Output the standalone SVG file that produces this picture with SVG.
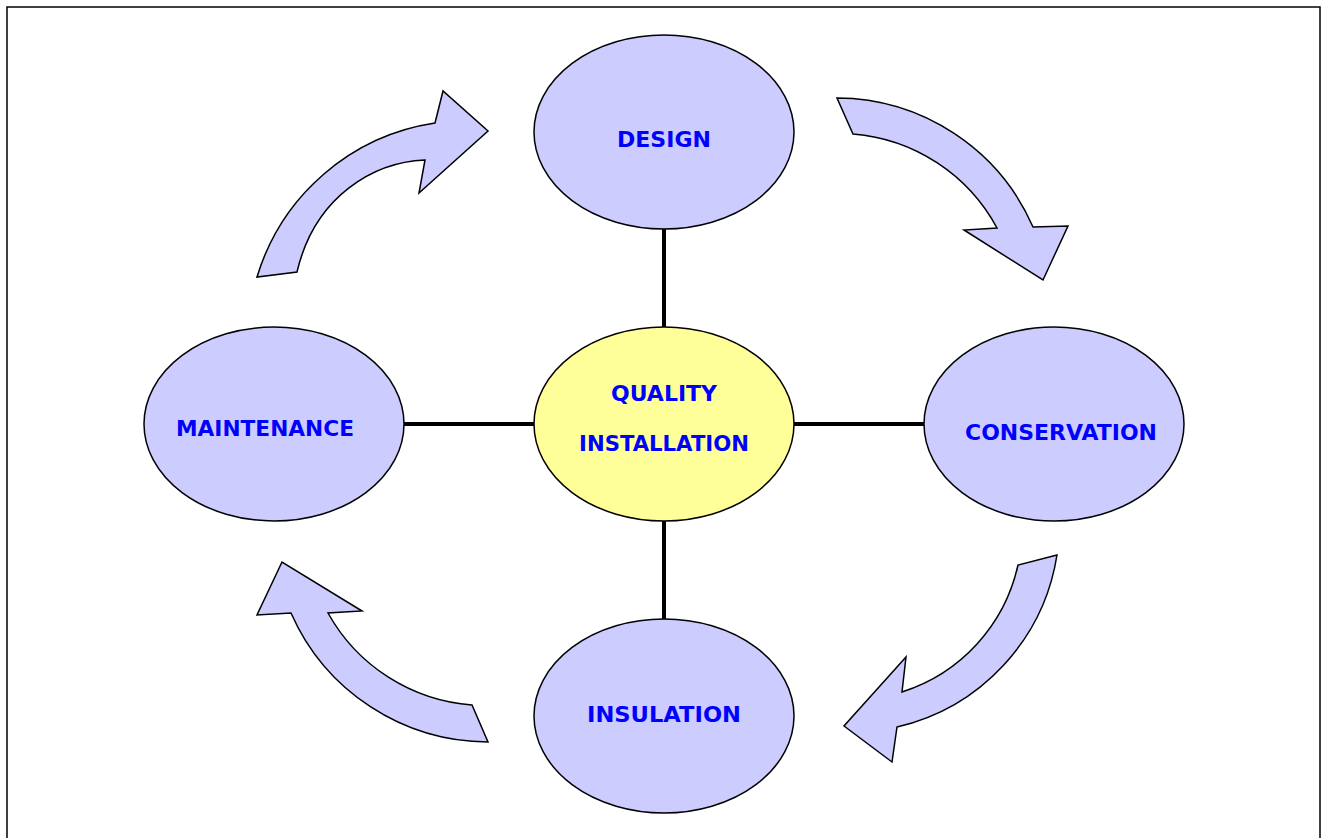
<svg xmlns="http://www.w3.org/2000/svg" width="1328" height="838" viewBox="0 0 1328 838">
<style>
.node{fill:#CCCCFF;stroke:#000;stroke-width:1.5}
.core{fill:#FFFF99;stroke:#000;stroke-width:1.5}
.arrow{fill:#CCCCFF;stroke:#000;stroke-width:1.5;stroke-linejoin:miter}
.lbl{font-family:"DejaVu Sans","Liberation Sans",sans-serif;font-weight:bold;font-size:21px;fill:#0000FF;text-anchor:middle}
.link{stroke:#000;stroke-width:4;fill:none}
</style>
<rect x="0" y="0" width="1328" height="838" fill="#fff"/>
<rect x="7" y="7" width="1313" height="840" fill="none" stroke="#000" stroke-width="1.5"/>
<g id="connectors">
<line class="link" x1="664" y1="229" x2="664" y2="327"/>
<line class="link" x1="664" y1="521" x2="664" y2="619"/>
<line class="link" x1="404" y1="424" x2="534" y2="424"/>
<line class="link" x1="794" y1="424" x2="924" y2="424"/>
<path id="arrow-top-left" class="arrow" d="M257,277 A220,220 0 0 1 435,123 L443,91 L488,131 L419,193 L425,160 C375,162 315,195 297,272 Z"/>
<path id="arrow-top-right" class="arrow" d="M837,98 A215,215 0 0 1 1033,227 L1068,226 L1043,280 L964,230 L997,228 A180,180 0 0 0 853,134 Z"/>
<path id="arrow-bottom-right" class="arrow" d="M1057,555 L1018,565 A172,172 0 0 1 902,692 L906,657 L844,726 L892,762 L897,727 A210,210 0 0 0 1057,555 Z"/>
<path id="arrow-bottom-left" class="arrow" d="M488,742 A216,216 0 0 1 291,613 L257,615 L282,562 L362,611 L328,613 A180,180 0 0 0 472,705 Z"/>
</g>
<g id="design">
<ellipse class="node" cx="664" cy="132" rx="130" ry="97"/>
<text class="lbl" x="664" y="147" textLength="94" lengthAdjust="spacingAndGlyphs">DESIGN</text>
</g>
<g id="quality-installation">
<ellipse class="core" cx="664" cy="424" rx="130" ry="97"/>
<text class="lbl" x="664" y="401" textLength="106" lengthAdjust="spacingAndGlyphs">QUALITY</text>
<text class="lbl" x="664" y="451" textLength="170" lengthAdjust="spacingAndGlyphs">INSTALLATION</text>
</g>
<g id="maintenance">
<ellipse class="node" cx="274" cy="424" rx="130" ry="97"/>
<text class="lbl" x="265" y="436" textLength="178" lengthAdjust="spacingAndGlyphs">MAINTENANCE</text>
</g>
<g id="conservation">
<ellipse class="node" cx="1054" cy="424" rx="130" ry="97"/>
<text class="lbl" x="1061" y="440" textLength="192" lengthAdjust="spacingAndGlyphs">CONSERVATION</text>
</g>
<g id="insulation">
<ellipse class="node" cx="664" cy="716" rx="130" ry="97"/>
<text class="lbl" x="664" y="722" textLength="154" lengthAdjust="spacingAndGlyphs">INSULATION</text>
</g>
</svg>
